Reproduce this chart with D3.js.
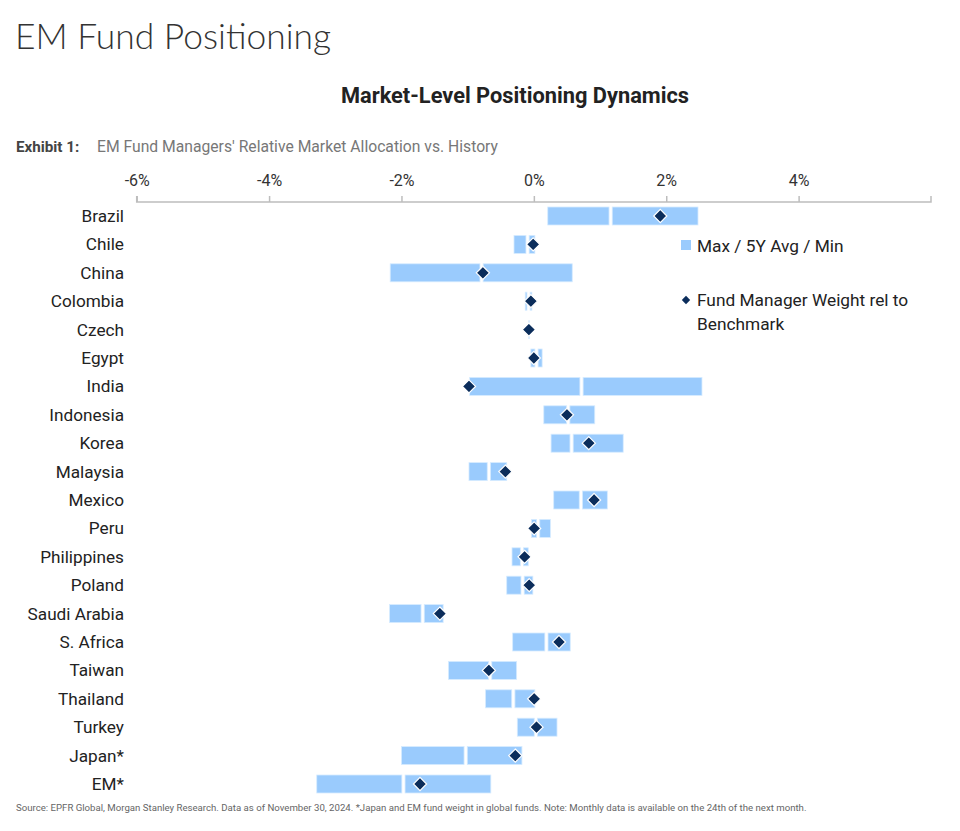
<!DOCTYPE html>
<html><head><meta charset="utf-8">
<script src="https://cdn.jsdelivr.net/npm/d3@7"></script>
<style>body{margin:0;background:#fff;} svg{display:block;}</style>
</head><body><svg id="c" width="960" height="831"></svg>
<script>
const categories = ["Brazil","Chile","China","Colombia","Czech","Egypt","India","Indonesia","Korea","Malaysia","Mexico","Peru","Philippines","Poland","Saudi Arabia","S. Africa","Taiwan","Thailand","Turkey","Japan*","EM*"];
const minVals  = [0.21,-0.30,-2.17,-0.13,-0.12,-0.045,-0.97,0.15,0.26,-0.98,0.30,-0.035,-0.33,-0.41,-2.18,-0.32,-1.29,-0.73,-0.25,-2.00,-3.28];
const avgVals  = [1.16,-0.095,-0.79,-0.08,-0.10,0.04,0.72,0.52,0.57,-0.68,0.71,0.065,-0.18,-0.17,-1.68,0.19,-0.66,-0.31,0.03,-1.03,-1.97];
const maxVals  = [2.48,0.015,0.58,-0.03,-0.07,0.125,2.54,0.92,1.35,-0.41,1.11,0.25,-0.085,-0.015,-1.37,0.55,-0.26,0.015,0.35,-0.18,-0.65];
const fmWeight = [1.91,-0.01,-0.77,-0.045,-0.075,0.0,-0.98,0.50,0.83,-0.43,0.91,0.005,-0.14,-0.07,-1.42,0.38,-0.68,0.005,0.04,-0.28,-1.72];
const tickVals = [-6,-4,-2,0,2,4];

const svg = d3.select("#c");
const FONT = "Roboto, 'Noto Sans', sans-serif";
const x = d3.scaleLinear().domain([-6,6]).range([136.7,931]);
const y = d3.scalePoint().domain(categories).range([216,784]);
const barH = 18;
const gapHalf = 1.6;

// titles
svg.append("text").attr("x",15).attr("y",49).attr("font-family","Lato, 'Open Sans', sans-serif").attr("font-weight",300)
  .attr("font-size",35.4).attr("fill","#333").text("EM Fund Positioning");
svg.append("text").attr("x",515).attr("y",103).attr("text-anchor","middle").attr("font-family",FONT).attr("font-weight",700)
  .attr("font-size",21.8).attr("fill","#222").text("Market-Level Positioning Dynamics");
svg.append("text").attr("x",16).attr("y",152).attr("font-family",FONT).attr("font-weight",700)
  .attr("font-size",15.2).attr("fill","#444").text("Exhibit 1:");
svg.append("text").attr("x",97).attr("y",152).attr("font-family",FONT)
  .attr("font-size",15.7).attr("fill","#777").text("EM Fund Managers' Relative Market Allocation vs. History");

// axis
const axis = d3.axisTop(x).tickValues(tickVals).tickFormat(d=>d+"%").tickSize(6).tickPadding(10);
const gA = svg.append("g").attr("transform","translate(0,202)").call(axis);
gA.select(".domain").attr("stroke","#bdbdbd").attr("stroke-width",1.5).attr("d",`M${x(-6)},-6V0H${x(6)}V-6`);
gA.selectAll(".tick line").attr("stroke","#bdbdbd").attr("stroke-width",1.5);
gA.selectAll(".tick text").attr("font-family",FONT).attr("font-size",16).attr("fill","#333");

// category labels
svg.append("g").selectAll("text").data(categories).join("text")
  .attr("x",124).attr("y",d=>y(d)).attr("dy","0.35em").attr("text-anchor","end")
  .attr("font-family",FONT).attr("font-size",17.2).attr("fill","#222").text(d=>d);

// bars: min->avg and avg->max, separated by a small white gap at the average
const rows = categories.map((c,i)=>({c,min:minVals[i],avg:avgVals[i],max:maxVals[i],w:fmWeight[i]}));
const segs = [];
rows.forEach(r=>{
  segs.push({c:r.c,x0:x(r.min),x1:x(r.avg)-gapHalf});
  segs.push({c:r.c,x0:x(r.avg)+gapHalf,x1:x(r.max)});
});
svg.append("g").selectAll("rect").data(segs.filter(s=>s.x1>s.x0)).join("rect")
  .attr("x",d=>d.x0).attr("width",d=>d.x1-d.x0)
  .attr("y",d=>y(d.c)-barH/2).attr("height",barH)
  .attr("fill","#9acbfd").attr("stroke","#d6ebff").attr("stroke-width",0.8);

// diamonds
const dsym = d3.symbol().type(d3.symbolDiamond2).size(110);
svg.append("g").selectAll("path").data(rows).join("path")
  .attr("transform",d=>`translate(${x(d.w)},${y(d.c)})`).attr("d",dsym)
  .attr("fill","#0b2d5b").attr("stroke","#fff").attr("stroke-width",1.2);

// legend
svg.append("rect").attr("x",681).attr("y",240).attr("width",10).attr("height",10).attr("fill","#9acbfd");
svg.append("text").attr("x",697).attr("y",252).attr("font-family",FONT).attr("font-size",17.3).attr("fill","#222").text("Max / 5Y Avg / Min");
svg.append("path").attr("transform","translate(686,300)").attr("d",d3.symbol().type(d3.symbolDiamond2).size(45)).attr("fill","#0b2d5b");
svg.append("text").attr("x",697).attr("y",306).attr("font-family",FONT).attr("font-size",17.3).attr("fill","#222").text("Fund Manager Weight rel to");
svg.append("text").attr("x",697).attr("y",330).attr("font-family",FONT).attr("font-size",17.3).attr("fill","#222").text("Benchmark");

// footer
svg.append("text").attr("x",16).attr("y",811).attr("font-family",FONT).attr("font-size",9.63).attr("fill","#666")
  .text("Source: EPFR Global, Morgan Stanley Research. Data as of November 30, 2024. *Japan and EM fund weight in global funds. Note: Monthly data is available on the 24th of the next month.");
</script></body></html>
